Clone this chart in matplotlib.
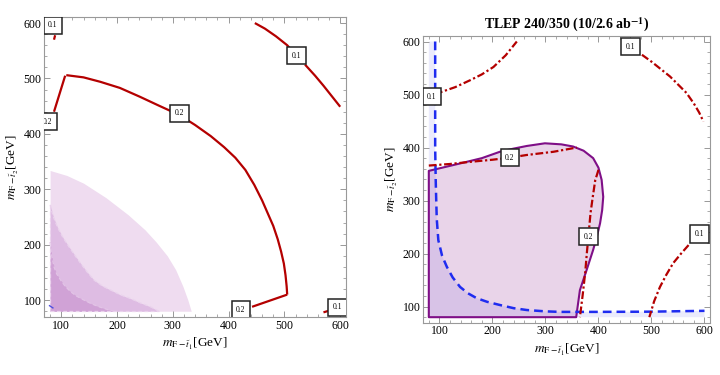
import matplotlib
matplotlib.use("Agg")
import matplotlib.pyplot as plt
from matplotlib.ticker import MultipleLocator

plt.rcParams['font.family'] = ['Liberation Serif', 'DejaVu Serif']
plt.rcParams['mathtext.fontset'] = 'stix'

# ---------------- data: left panel ----------------
# shaded regions (nested, lightest -> darkest), upper boundary curves
light_x = [80, 110, 140, 180, 220, 250, 270, 290, 305, 318, 327, 333]
light_y = [334, 325, 311, 285, 254, 227, 205, 180, 155, 125, 100, 80]
mid_x = [80, 86, 93, 103, 114, 125, 135, 147, 159, 173, 189, 205, 224, 242, 260, 275]
mid_y = [272, 250, 232, 213, 196, 180, 166, 150, 136, 126, 118, 110, 103, 95, 88, 80]
dark_x = [80, 83, 87, 92, 99, 107, 117, 128, 141, 153, 165, 180, 194]
dark_y = [205, 180, 160, 147, 136, 125, 115, 107, 100, 94, 89, 84, 80]
tiny_blue_x = [79, 85]
tiny_blue_y = [90, 86]

# 0.2 contour (solid)
c02a_x = [87, 107]
c02a_y = [440, 505]
c02b_x = [109, 140, 170, 205, 241, 275, 312, 340, 368, 392, 412, 430, 446, 460,
          470, 480, 488, 494, 499, 502, 504, 505]
c02b_y = [506, 502, 494, 483, 467, 451, 434, 416, 396, 376, 357, 335, 308, 280,
          257, 234, 210, 188, 166, 145, 125, 110]
c02c_x = [505, 442]
c02c_y = [110, 88]
# 0.1 contours (solid)
c01a_x = [87, 89]
c01a_y = [570, 578]
c01b_x = [447, 465, 485, 505, 522]
c01b_y = [600, 590, 576, 560, 541]
c01c_x = [537, 555, 570, 585, 600]
c01c_y = [525, 505, 487, 468, 449]
c01d_x = [570, 580]
c01d_y = [78, 81]

left_labels = [(85, 596, "0.1"), (522, 541, "0.1"), (312, 437, "0.2"),
               (75, 422, "0.2"), (422, 83, "0.2"), (595, 87, "0.1")]

# ---------------- data: right panel ----------------
reg_x = [80, 80, 139, 180, 214, 240, 265, 299, 330, 352, 372, 390, 400, 406, 409,
         407, 403, 397, 390, 378, 365, 358, 80]
reg_y = [80, 356, 370, 380, 392, 398, 403, 408, 406, 402, 394, 380, 362, 339, 307,
         282, 257, 232, 207, 170, 131, 80, 80]

blue_x = [92, 92, 93, 94, 95, 98, 105, 114, 125, 139, 154, 170, 190, 214, 240, 265,
          300, 327, 400, 497, 600]
blue_y = [600, 400, 339, 300, 265, 225, 196, 175, 155, 137, 125, 116, 109, 103, 97,
          93.5, 91, 90, 90, 90.4, 92]

r01a_x = [92, 104, 130, 158, 180, 202, 225, 246]
r01a_y = [500, 505, 514, 527, 538, 552, 574, 600]
r01b_x = [482, 500, 520, 535, 550, 566, 580, 590, 598]
r01b_y = [575, 562, 546, 534, 519, 503, 483, 466, 449]
r02a_x = [80, 120, 158, 200, 233, 265, 315, 359]
r02a_y = [366, 369, 373, 377, 381, 386, 392, 400]
r02b_x = [400, 397, 394, 389, 385, 381, 378, 375, 370, 365]
r02b_y = [358, 348, 339, 305, 276, 232, 200, 164, 120, 80]
r01c_x = [570, 555, 541, 528, 516, 505, 496]
r01c_y = [216, 199, 182, 160, 137, 110, 80]

right_labels = [(86, 496, "0.1"), (461, 590, "0.1"), (233, 381, "0.2"),
                (381, 232, "0.2"), (590, 237, "0.1")]

lims = (69.6, 610.4)
red = '#b40000'

fig = plt.figure(figsize=(7.2, 3.75), dpi=100)
axL = fig.add_axes([44.3 / 720, (375 - 317) / 375, 301.7 / 720, 299.7 / 375])
axR = fig.add_axes([423.3 / 720, (375 - 322.7) / 375, 286.7 / 720, 286.7 / 375])


def style(ax):
    ax.set_xlim(*lims)
    ax.set_ylim(*lims)
    ax.xaxis.set_major_locator(MultipleLocator(100))
    ax.yaxis.set_major_locator(MultipleLocator(100))
    ax.xaxis.set_minor_locator(MultipleLocator(20))
    ax.yaxis.set_minor_locator(MultipleLocator(20))
    ax.tick_params(which='both', direction='in', top=True, right=True,
                   color='#888888', labelsize=8.5, pad=2)
    ax.tick_params(which='major', length=4, width=0.6)
    ax.tick_params(which='minor', length=2, width=0.5)
    for s in ax.spines.values():
        s.set_color('#999999')
        s.set_linewidth(0.8)
    ax.set_xlabel(r"$m_{\mathrm{F}-\tilde{t}_1}$[GeV]", fontsize=9.5, labelpad=3)
    ax.set_ylabel(r"$m_{\mathrm{F}-\tilde{t}_2}$[GeV]", fontsize=9.5, labelpad=2)


def box_label(ax, x, y, s):
    ax.text(x, y, s, fontsize=5.5, ha='center', va='center', zorder=6,
            clip_on=True,
            bbox=dict(boxstyle='square,pad=0.6', fc='white', ec='#222222', lw=1.1))


# ---- left panel ----
style(axL)
axL.fill_between(light_x, [80] * len(light_x), light_y, color='#efdcf0', lw=0, zorder=1)
axL.fill_between(mid_x, [80] * len(mid_x), mid_y, color='#debce3', lw=0, zorder=2)
axL.plot(mid_x, mid_y, color='#ead3ed', lw=0.9, ls=(0, (3, 2)), zorder=2.5)
axL.fill_between(dark_x, [80] * len(dark_x), dark_y, color='#d0a2d6', lw=0, zorder=3)
axL.plot(dark_x, dark_y, color='#e2c4e6', lw=0.9, ls=(0, (3, 2)), zorder=3.5)
axL.plot([80, 80, 275], [272, 80, 80], color='#ead3ed', lw=0.9, ls=(0, (3, 2)), zorder=3.6)
axL.plot(tiny_blue_x, tiny_blue_y, color='#5050e0', lw=1.0, zorder=3.7)
for xs, ys in [(c02a_x, c02a_y), (c02b_x, c02b_y), (c02c_x, c02c_y),
               (c01a_x, c01a_y), (c01b_x, c01b_y), (c01c_x, c01c_y), (c01d_x, c01d_y)]:
    axL.plot(xs, ys, color=red, lw=1.6, zorder=4, solid_capstyle='butt',
             solid_joinstyle='round')
for x, y, s in left_labels:
    box_label(axL, x, y, s)

# ---- right panel ----
style(axR)
blue_fill_x = [80] + blue_x + [600, 80]
blue_fill_y = [600] + blue_y + [80, 80]
axR.fill(blue_fill_x, blue_fill_y, color='#ebebfc', lw=0, zorder=1)
axR.fill(reg_x, reg_y, facecolor=(0.5, 0.0, 0.5, 0.17), edgecolor='#7f0f87', lw=1.5,
         joinstyle='round', zorder=2)
axR.plot(blue_x, blue_y, color='#1f2cf0', lw=1.8, ls=(0, (3.5, 2)), zorder=3)
for xs, ys in [(r01a_x, r01a_y), (r01b_x, r01b_y), (r02a_x, r02a_y),
               (r02b_x, r02b_y), (r01c_x, r01c_y)]:
    axR.plot(xs, ys, color=red, lw=1.6, ls=(0, (3.5, 1.2, 1, 1.2)), zorder=4)
for x, y, s in right_labels:
    box_label(axR, x, y, s)
axR.set_title(r"TLEP 240/350 (10/2.6 ab$^{\mathbf{-1}}$)", fontsize=10, fontweight='bold', pad=5)

fig.savefig("out.png", dpi=100)
